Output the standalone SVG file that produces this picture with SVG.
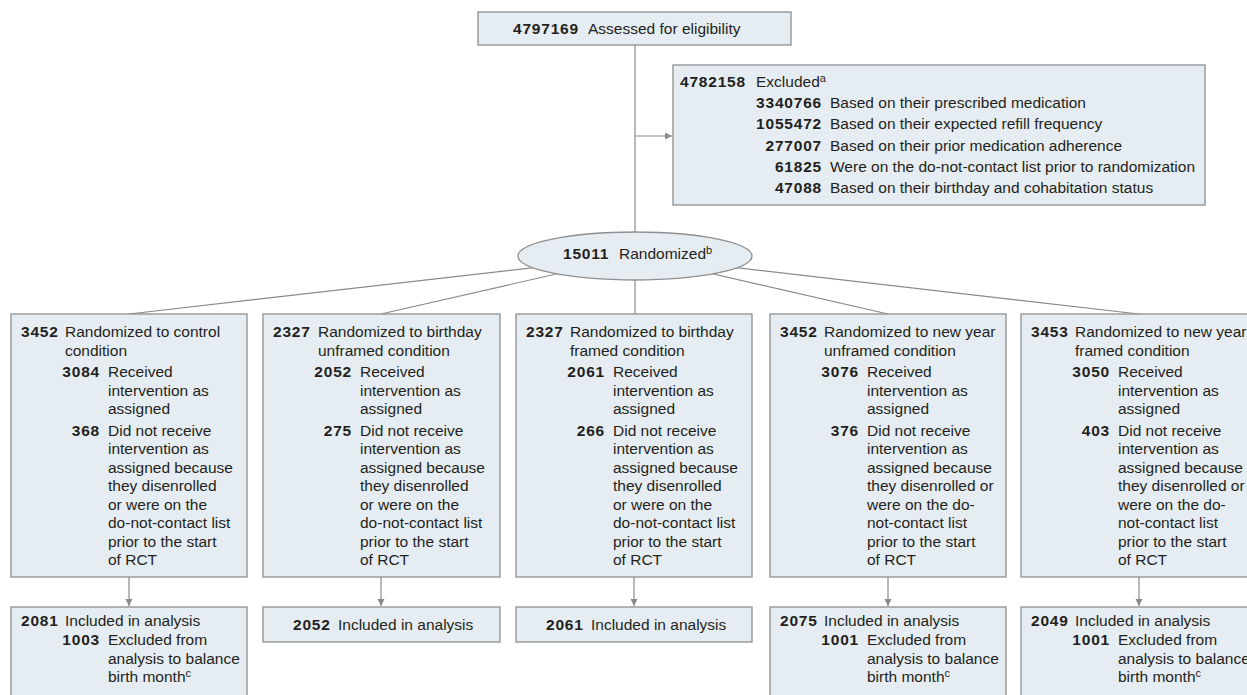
<svg xmlns="http://www.w3.org/2000/svg" width="1247" height="695" viewBox="0 0 1247 695">
<style>
.bg{fill:#ffffff}
.box{fill:#e6edf2;stroke:#8f8f8f;stroke-width:1.3}
.conn{stroke:#8a8a8a;stroke-width:1.2;fill:none}
.t{font-family:'Liberation Sans',Arial,sans-serif;font-size:15.5px;fill:#231f20}
.n{font-weight:bold;letter-spacing:0.8px}
.e{text-anchor:end}
.sup{font-size:11px}
</style>
<defs>
<marker id="ah" markerWidth="8" markerHeight="8" refX="7" refY="4" orient="auto" markerUnits="userSpaceOnUse">
<path d="M0,0.5 L7,4 L0,7.5 Z" fill="#8a8a8a"/>
</marker>
</defs>
<rect class="bg" x="0" y="0" width="1247" height="695"/>

<g id="connectors">
<line class="conn" x1="635" y1="45" x2="635" y2="314"/>
<line class="conn" x1="635" y1="136" x2="672" y2="136" marker-end="url(#ah)"/>
<line class="conn" x1="635" y1="256" x2="129" y2="314"/>
<line class="conn" x1="635" y1="256" x2="381" y2="314"/>
<line class="conn" x1="635" y1="256" x2="888" y2="314"/>
<line class="conn" x1="635" y1="256" x2="1139" y2="314"/>
<line class="conn" x1="129" y1="577" x2="129" y2="606" marker-end="url(#ah)"/>
<line class="conn" x1="381" y1="577" x2="381" y2="606" marker-end="url(#ah)"/>
<line class="conn" x1="634" y1="577" x2="634" y2="606" marker-end="url(#ah)"/>
<line class="conn" x1="888" y1="577" x2="888" y2="606" marker-end="url(#ah)"/>
<line class="conn" x1="1139" y1="577" x2="1139" y2="606" marker-end="url(#ah)"/>
</g>

<g id="assessed">
<rect class="box" x="478" y="12" width="313" height="33"/>
<text class="t" y="34"><tspan class="n" x="513">4797169</tspan><tspan x="588">Assessed for eligibility</tspan></text>
</g>

<g id="excluded">
<rect class="box" x="673" y="65" width="532" height="140"/>
<text class="t" y="87"><tspan class="n" x="680">4782158</tspan><tspan x="756">Excluded</tspan><tspan class="sup" dy="-5">a</tspan></text>
<text class="t n e" x="822" y="108">3340766</text><text class="t" x="830" y="108">Based on their prescribed medication</text>
<text class="t n e" x="822" y="129">1055472</text><text class="t" x="830" y="129">Based on their expected refill frequency</text>
<text class="t n e" x="822" y="151">277007</text><text class="t" x="830" y="151">Based on their prior medication adherence</text>
<text class="t n e" x="822" y="172">61825</text><text class="t" x="830" y="172">Were on the do-not-contact list prior to randomization</text>
<text class="t n e" x="822" y="193">47088</text><text class="t" x="830" y="193">Based on their birthday and cohabitation status</text>
</g>

<g id="randomized">
<ellipse class="box" cx="635" cy="256" rx="117" ry="24"/>
<text class="t" y="259"><tspan class="n" x="563">15011</tspan><tspan x="619">Randomized</tspan><tspan class="sup" dy="-5">b</tspan></text>
</g>

<g id="arm-control">
<rect class="box" x="11" y="314" width="236" height="263"/>
<text class="t n" x="21" y="337">3452</text>
<text class="t" x="65" y="337">Randomized to control</text>
<text class="t" x="65" y="355.5">condition</text>
<text class="t n e" x="100" y="377">3084</text>
<text class="t" x="108" y="377">Received</text>
<text class="t" x="108" y="395.5">intervention as</text>
<text class="t" x="108" y="414">assigned</text>
<text class="t n e" x="100" y="435.5">368</text>
<text class="t" x="108" y="435.5">Did not receive</text>
<text class="t" x="108" y="454">intervention as</text>
<text class="t" x="108" y="472.5">assigned because</text>
<text class="t" x="108" y="491">they disenrolled</text>
<text class="t" x="108" y="509.5">or were on the</text>
<text class="t" x="108" y="528">do-not-contact list</text>
<text class="t" x="108" y="546.5">prior to the start</text>
<text class="t" x="108" y="565">of RCT</text>
</g>

<g id="arm-birthday-unframed">
<rect class="box" x="263" y="314" width="237" height="263"/>
<text class="t n" x="273" y="337">2327</text>
<text class="t" x="318" y="337">Randomized to birthday</text>
<text class="t" x="318" y="355.5">unframed condition</text>
<text class="t n e" x="352" y="377">2052</text>
<text class="t" x="360" y="377">Received</text>
<text class="t" x="360" y="395.5">intervention as</text>
<text class="t" x="360" y="414">assigned</text>
<text class="t n e" x="352" y="435.5">275</text>
<text class="t" x="360" y="435.5">Did not receive</text>
<text class="t" x="360" y="454">intervention as</text>
<text class="t" x="360" y="472.5">assigned because</text>
<text class="t" x="360" y="491">they disenrolled</text>
<text class="t" x="360" y="509.5">or were on the</text>
<text class="t" x="360" y="528">do-not-contact list</text>
<text class="t" x="360" y="546.5">prior to the start</text>
<text class="t" x="360" y="565">of RCT</text>
</g>

<g id="arm-birthday-framed">
<rect class="box" x="516" y="314" width="236" height="263"/>
<text class="t n" x="526" y="337">2327</text>
<text class="t" x="570" y="337">Randomized to birthday</text>
<text class="t" x="570" y="355.5">framed condition</text>
<text class="t n e" x="605" y="377">2061</text>
<text class="t" x="613" y="377">Received</text>
<text class="t" x="613" y="395.5">intervention as</text>
<text class="t" x="613" y="414">assigned</text>
<text class="t n e" x="605" y="435.5">266</text>
<text class="t" x="613" y="435.5">Did not receive</text>
<text class="t" x="613" y="454">intervention as</text>
<text class="t" x="613" y="472.5">assigned because</text>
<text class="t" x="613" y="491">they disenrolled</text>
<text class="t" x="613" y="509.5">or were on the</text>
<text class="t" x="613" y="528">do-not-contact list</text>
<text class="t" x="613" y="546.5">prior to the start</text>
<text class="t" x="613" y="565">of RCT</text>
</g>

<g id="arm-newyear-unframed">
<rect class="box" x="770" y="314" width="236" height="263"/>
<text class="t n" x="780" y="337">3452</text>
<text class="t" x="824" y="337">Randomized to new year</text>
<text class="t" x="824" y="355.5">unframed condition</text>
<text class="t n e" x="859" y="377">3076</text>
<text class="t" x="867" y="377">Received</text>
<text class="t" x="867" y="395.5">intervention as</text>
<text class="t" x="867" y="414">assigned</text>
<text class="t n e" x="859" y="435.5">376</text>
<text class="t" x="867" y="435.5">Did not receive</text>
<text class="t" x="867" y="454">intervention as</text>
<text class="t" x="867" y="472.5">assigned because</text>
<text class="t" x="867" y="491">they disenrolled or</text>
<text class="t" x="867" y="509.5">were on the do-</text>
<text class="t" x="867" y="528">not-contact list</text>
<text class="t" x="867" y="546.5">prior to the start</text>
<text class="t" x="867" y="565">of RCT</text>
</g>

<g id="arm-newyear-framed">
<rect class="box" x="1021" y="314" width="236" height="263"/>
<text class="t n" x="1031" y="337">3453</text>
<text class="t" x="1075" y="337">Randomized to new year</text>
<text class="t" x="1075" y="355.5">framed condition</text>
<text class="t n e" x="1110" y="377">3050</text>
<text class="t" x="1118" y="377">Received</text>
<text class="t" x="1118" y="395.5">intervention as</text>
<text class="t" x="1118" y="414">assigned</text>
<text class="t n e" x="1110" y="435.5">403</text>
<text class="t" x="1118" y="435.5">Did not receive</text>
<text class="t" x="1118" y="454">intervention as</text>
<text class="t" x="1118" y="472.5">assigned because</text>
<text class="t" x="1118" y="491">they disenrolled or</text>
<text class="t" x="1118" y="509.5">were on the do-</text>
<text class="t" x="1118" y="528">not-contact list</text>
<text class="t" x="1118" y="546.5">prior to the start</text>
<text class="t" x="1118" y="565">of RCT</text>
</g>

<g id="analysis-control">
<rect class="box" x="11" y="607" width="236" height="100"/>
<text class="t n" x="21" y="626">2081</text>
<text class="t" x="65" y="626">Included in analysis</text>
<text class="t n e" x="100" y="645">1003</text>
<text class="t" x="108" y="645">Excluded from</text>
<text class="t" x="108" y="663.5">analysis to balance</text>
<text class="t" x="108" y="682">birth month<tspan class="sup" dy="-5">c</tspan></text>
</g>

<g id="analysis-birthday-unframed">
<rect class="box" x="263" y="607" width="237" height="35"/>
<text class="t" y="630"><tspan class="n" x="293">2052</tspan><tspan x="338">Included in analysis</tspan></text>
</g>

<g id="analysis-birthday-framed">
<rect class="box" x="516" y="607" width="236" height="35"/>
<text class="t" y="630"><tspan class="n" x="546">2061</tspan><tspan x="591">Included in analysis</tspan></text>
</g>

<g id="analysis-newyear-unframed">
<rect class="box" x="770" y="607" width="236" height="100"/>
<text class="t n" x="780" y="626">2075</text>
<text class="t" x="824" y="626">Included in analysis</text>
<text class="t n e" x="859" y="645">1001</text>
<text class="t" x="867" y="645">Excluded from</text>
<text class="t" x="867" y="663.5">analysis to balance</text>
<text class="t" x="867" y="682">birth month<tspan class="sup" dy="-5">c</tspan></text>
</g>

<g id="analysis-newyear-framed">
<rect class="box" x="1021" y="607" width="236" height="100"/>
<text class="t n" x="1031" y="626">2049</text>
<text class="t" x="1075" y="626">Included in analysis</text>
<text class="t n e" x="1110" y="645">1001</text>
<text class="t" x="1118" y="645">Excluded from</text>
<text class="t" x="1118" y="663.5">analysis to balance</text>
<text class="t" x="1118" y="682">birth month<tspan class="sup" dy="-5">c</tspan></text>
</g>
</svg>
